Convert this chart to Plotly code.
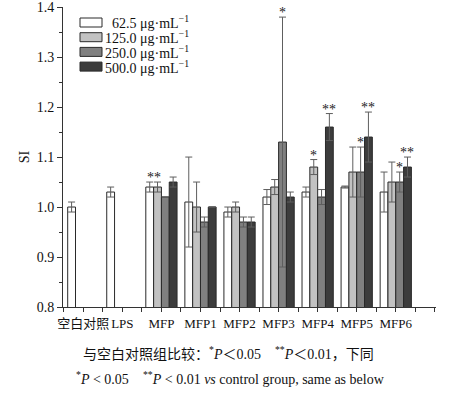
import plotly.graph_objects as go

categories = ["空白对照", "LPS", "MFP", "MFP1", "MFP2", "MFP3", "MFP4", "MFP5", "MFP6"]
series_names = ["62.5 μg·mL<sup>−1</sup>", "125.0 μg·mL<sup>−1</sup>",
                "250.0 μg·mL<sup>−1</sup>", "500.0 μg·mL<sup>−1</sup>"]

s625 = [1.00, 1.03, 1.04, 1.01, 0.99, 1.02, 1.03, 1.04, 1.03]
e625 = [0.01, 0.01, 0.01, 0.09, 0.01, 0.015, 0.01, 0.002, 0.04]
s125 = [None, None, 1.04, 1.00, 1.00, 1.04, 1.08, 1.07, 1.05]
e125 = [None, None, 0.01, 0.05, 0.01, 0.015, 0.015, 0.05, 0.04]
s250 = [None, None, 1.02, 0.97, 0.97, 1.13, 1.02, 1.07, 1.05]
e250 = [None, None, 0.0, 0.01, 0.01, 0.25, 0.015, 0.05, 0.02]
s500 = [None, None, 1.05, 1.00, 0.97, 1.02, 1.16, 1.14, 1.08]
e500 = [None, None, 0.01, 0.0, 0.01, 0.01, 0.027, 0.05, 0.02]

sig625 = ["", "", "", "", "", "", "", "", ""]
sig125 = ["", "", "**", "", "", "", "*", "", ""]
sig250 = ["", "", "", "", "", "*", "", "*", "*"]
sig500 = ["", "", "", "", "", "", "**", "**", "**"]

y_ticks = [0.8, 0.9, 1.0, 1.1, 1.2, 1.3, 1.4]

values = [s625, s125, s250, s500]
errors = [e625, e125, e250, e500]
sigs = [sig625, sig125, sig250, sig500]
colors = ["#ffffff", "#c2c2c2", "#808080", "#3c3c3c"]
offsets = [-0.3, -0.1, 0.1, 0.3]

SERIF = "Liberation Serif, Times New Roman, Noto Sans CJK SC, serif"
xs = list(range(len(categories)))

fig = go.Figure()
for k in range(4):
    fig.add_trace(go.Bar(
        x=xs, y=values[k], name=series_names[k],
        marker=dict(color=colors[k], line=dict(color="#2a2a2a", width=1)),
        error_y=dict(type="data", array=errors[k], visible=True,
                     color="#5e5e5e", thickness=1, width=3.5),
        showlegend=False,
    ))

annotations = []
for k in range(4):
    for i, s in enumerate(sigs[k]):
        if s and values[k][i] is not None:
            xshift = -4 if (k == 1 and i == 2) else 0
            annotations.append(dict(
                x=i + offsets[k], y=values[k][i] + errors[k][i],
                xref="x", yref="y", text=s, showarrow=False,
                yanchor="bottom", yshift=-5, xshift=xshift,
                font=dict(family=SERIF, size=14, color="#222222")))

# custom legend (boxes + labels) in paper coordinates (screen px of plot area)
PX0, PX1, PY0, PY1 = 63, 436, 7, 307
def px(xp):
    return (xp - PX0) / (PX1 - PX0)
def py(yp):
    return (PY1 - yp) / (PY1 - PY0)

shapes = []
for k in range(4):
    top = 18 + k * 14.7
    shapes.append(dict(type="rect", xref="paper", yref="paper",
                       x0=px(80), x1=px(102), y0=py(top + 9), y1=py(top),
                       fillcolor=colors[k], line=dict(color="#2a2a2a", width=1)))
    annotations.append(dict(x=px(191), y=py(top + 4.5), xref="paper", yref="paper",
                            text=series_names[k], showarrow=False,
                            xanchor="right", yanchor="middle",
                            font=dict(family=SERIF, size=14, color="#111111")))

annotations.append(dict(
    x=px(228), y=py(353), xref="paper", yref="paper", showarrow=False,
    text="与空白对照组比较：<sup>*</sup><i>P</i>＜0.05　<sup>**</sup><i>P</i>＜0.01，下同",
    xanchor="center", yanchor="middle",
    font=dict(family="Liberation Serif, Noto Sans CJK SC", size=14, color="#111111")))
annotations.append(dict(
    x=px(230), y=py(378), xref="paper", yref="paper", showarrow=False,
    text="<sup>*</sup><i>P</i> &lt; 0.05    <sup>**</sup><i>P</i> &lt; 0.01 <i>vs</i> control group, same as below",
    xanchor="center", yanchor="middle",
    font=dict(family=SERIF, size=14, color="#111111")))

minor_vals = [i + 0.5 for i in range(-1, 9)] + [9]

fig.update_layout(
    width=455, height=395,
    margin=dict(l=63, r=19, t=7, b=88, pad=0, autoexpand=False),
    paper_bgcolor="white", plot_bgcolor="white",
    barmode="group", bargap=0.2, bargroupgap=0,
    annotations=annotations, shapes=shapes,
    font=dict(family=SERIF, size=14, color="#111111"),
    xaxis=dict(range=[-0.52, 9.03], tickvals=xs, ticktext=categories, tickangle=0,
               automargin=False,
               showline=True, linecolor="#333333", linewidth=1,
               ticks="outside", ticklen=4, tickcolor="#333333",
               minor=dict(tickvals=minor_vals, ticks="outside", ticklen=4,
                          tickcolor="#333333", showgrid=False),
               showgrid=False, zeroline=False,
               tickfont=dict(family="Liberation Serif, Noto Sans CJK SC", size=13)),
    yaxis=dict(range=[0.8, 1.4002], tickvals=y_ticks,
               ticktext=[f"{v:.1f}" for v in y_ticks], automargin=False,
               showline=True, linecolor="#333333", linewidth=1,
               ticks="outside", ticklen=5, tickcolor="#333333",
               minor=dict(dtick=0.05, tick0=0.8, ticks="outside", ticklen=3,
                          tickcolor="#333333", showgrid=False),
               showgrid=False, zeroline=False,
               title=dict(text="SI", standoff=3, font=dict(family=SERIF, size=14)),
               tickfont=dict(family=SERIF, size=14)),
)

fig.write_html("out.html",
               config={"displayModeBar": False, "staticPlot": True},
               post_script="document.body.style.margin='0';document.body.style.overflow='hidden';")
